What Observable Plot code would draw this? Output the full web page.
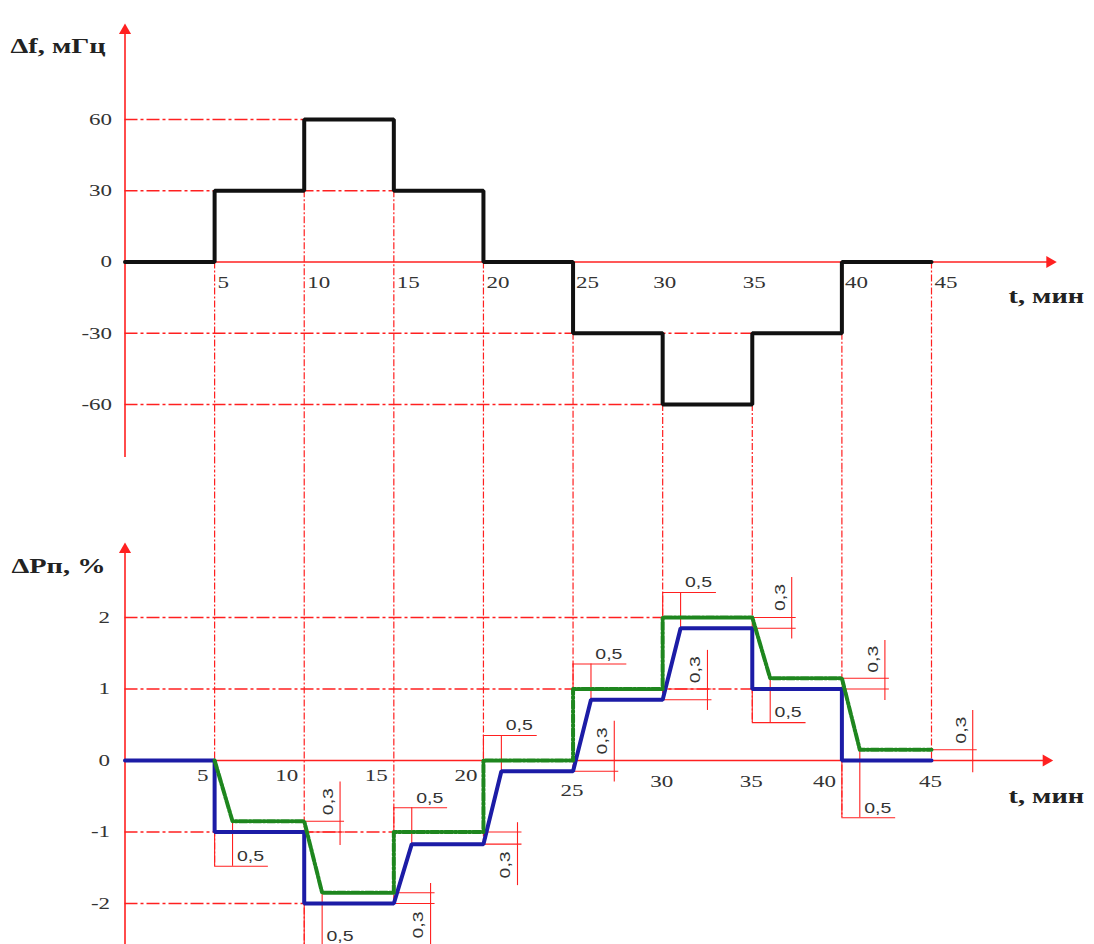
<!DOCTYPE html>
<html>
<head>
<meta charset="utf-8">
<script src="https://cdn.jsdelivr.net/npm/d3@7"></script>
<script src="https://cdn.jsdelivr.net/npm/@observablehq/plot@0.6"></script>
<style>
  html, body { margin: 0; padding: 0; background: #fff; }
  #chart { width: 1094px; height: 944px; overflow: hidden; }
  #chart svg { display: block; }
</style>
</head>
<body>
<div id="chart"></div>
<script>
// ---------- DATA ----------
// Top panel: frequency deviation Δf, mHz (step values at switching times)
const fTimes  = [0, 5, 10, 15, 20, 25, 30, 35, 40, 45];
const fValues = [0, 30, 60, 30, 0, -30, -60, -30, 0, 0];
const fTicksY = [60, 30, 0, -30, -60];
const tTicks  = [5, 10, 15, 20, 25, 30, 35, 40, 45];
const fGridLevels = [60, 30, -30, -60];
const fGridEnds   = [10, 15, 40, 30];

// Bottom panel: ΔPп, %
const blueT = [0, 5, 5, 10, 10, 15, 16, 20, 21, 25, 26, 30, 31, 35, 35, 40, 40, 45];
const blueV = [0, 0, -1, -1, -2, -2, -1.17, -1.17, -0.15, -0.15, 0.85, 0.85, 1.85, 1.85, 1, 1, 0, 0];
const greenT = [5, 6, 10, 11, 15, 15, 20, 20, 25, 25, 30, 30, 35, 36, 40, 41, 45];
const greenV = [0, -0.85, -0.85, -1.85, -1.85, -1, -1, 0, 0, 1, 1, 2, 2, 1.15, 1.15, 0.15, 0.15];
const pTicksY = [2, 1, 0, -1, -2];
const pGridLevels = [2, 1, -1, -2];
const pGridEnds   = [30, 35, 15, 10];
const pGuideEnds  = [-1.48, -2.7, -2, -1.17, -0.15, 0.85, 0.53, -0.8, 0]; // lower end of guide at each tTick

// "0,5" horizontal dimensions
const hDimT0     = [5, 10, 15, 20, 25, 30, 35, 40];
const hDimLevel  = [-1.48, -2.6, -0.66, 0.35, 1.35, 2.35, 0.53, -0.8];
const hDimFrom0  = [-1, -2, -1, 0, 1, 2, 1, 0];
const hDimFrom1  = [-0.85, -1.85, -1.17, -0.15, 0.85, 1.85, 1.15, 0.15];
const hDimLabel  = "0,5";
// "0,3" vertical dimensions
const vDimT    = [12.0, 17.05, 21.9, 27.3, 32.5, 37.2, 42.4, 47.3];
const vDimTop  = [-0.3, -1.72, -0.87, 0.55, 1.54, 2.56, 1.68, 0.7];
const vDimBot  = [-1.19, -2.6, -1.75, -0.3, 0.7, 1.7, 0.84, -0.17];
const vDimFrom = [10, 15, 20, 25, 30, 35, 40, 45];
const vDimExtA = [-0.85, -1.85, -1, 0, 1, 2, 1.15, 0.15];
const vDimExtB = [-1, -2, -1.17, -0.15, 0.85, 1.85, 1, 0];
const vDimSide = ["above", "below", "below", "above", "above", "above", "above", "above"];
const vDimLabel = "0,3";

// ---------- STYLE ----------
const RED = "#ff2020";
const SERIF = "Liberation Serif, Times New Roman, serif";
const SANS = "Liberation Sans, Arial, sans-serif";
const TXT = "#333";
const RAMP = 1;      // ramp width as drawn
const DIM_LEN = 3;   // dimension line length
const dashDot = "13,3,3,3";
const dashed = "7,2,2,2";
const tickFont = {fontFamily: SERIF, fontSize: 17, fill: TXT};
const titleFont = {fontFamily: SERIF, fontWeight: "bold", fontSize: 21, fill: "#222"};

// ---------- TOP PANEL ----------
const fData = fTimes.map((t, i) => ({t, v: fValues[i]}));
const fGuides = tTicks.map(t => {
  const i = fTimes.indexOf(t);
  return {t, v: Math.min(fValues[i - 1], fValues[i])};
});
const topCentered = t => t === 30 || t === 35;

const topPlot = Plot.plot({
  width: 1094, height: 470,
  marginLeft: 0, marginRight: 0, marginTop: 0, marginBottom: 0,
  style: {overflow: "hidden", background: "#fff"},
  x: {domain: [0, 45], range: [124.5, 931], axis: null},
  y: {domain: [-60, 60], range: [404, 119], axis: null},
  marks: [
    Plot.ruleY(fGridLevels, {y: d => d, x1: 0, x2: (d, i) => fGridEnds[i], stroke: RED, strokeWidth: 1.3, strokeDasharray: dashDot}),
    Plot.ruleX(fGuides, {x: "t", y1: "v", y2: -140, stroke: RED, strokeWidth: 1.2, strokeDasharray: dashed}),
    Plot.ruleY([0], {x1: 0, x2: 51.8, stroke: RED, strokeWidth: 1.6}),
    Plot.ruleX([0], {y1: -82.3, y2: 97, stroke: RED, strokeWidth: 1.6}),
    Plot.dot([0], {x: 51.6, y: 0, symbol: "triangle", rotate: 90, r: 4.5, fill: RED, stroke: null}),
    Plot.dot([0], {x: 0, y: 97.5, symbol: "triangle", rotate: 0, r: 4.5, fill: RED, stroke: null}),
    Plot.line(fData, {x: "t", y: "v", curve: "step-after", stroke: "#111", strokeWidth: 4, strokeLinejoin: "miter"}),
    Plot.text(fTicksY, {x: 0, y: d => d, text: d => String(d), textAnchor: "end", dx: -13, ...tickFont}),
    Plot.text(tTicks, {filter: d => !topCentered(d), x: d => d, y: 0, text: d => String(d), textAnchor: "start", dx: 3, dy: 21, ...tickFont}),
    Plot.text(tTicks, {filter: topCentered, x: d => d, y: 0, text: d => String(d), textAnchor: "middle", dx: 2, dy: 21, ...tickFont}),
    Plot.text(["Δf, мГц"], {frameAnchor: "top-left", textAnchor: "start", dx: 10, dy: 38, ...titleFont}),
    Plot.text(["t, мин"], {frameAnchor: "top-left", textAnchor: "start", dx: 1008, dy: 288, ...titleFont})
  ]
});

// ---------- BOTTOM PANEL ----------
const blue = blueT.map((t, i) => ({t, v: blueV[i]}));
const green = greenT.map((t, i) => ({t, v: greenV[i]}));
const pGuides = tTicks.map((t, i) => ({t, v: pGuideEnds[i]}));
const hDims = hDimT0.map((t0, i) => ({t0, level: hDimLevel[i], from0: hDimFrom0[i], from1: hDimFrom1[i]}));
const vDims = vDimT.map((t, i) => ({t, top: vDimTop[i], bot: vDimBot[i], from: vDimFrom[i], extA: vDimExtA[i], extB: vDimExtB[i], side: vDimSide[i]}));
const vLabelY = d => d.side === "above"
  ? (d.top + Math.max(d.extA, d.extB)) / 2
  : (d.bot + Math.min(d.extA, d.extB)) / 2;

const pAnchorEnd = t => [5, 10, 15, 20, 40].includes(t);

const botPlot = Plot.plot({
  width: 1094, height: 474,
  marginLeft: 0, marginRight: 0, marginTop: 0, marginBottom: 0,
  style: {overflow: "hidden", background: "#fff"},
  x: {domain: [0, 45], range: [124.5, 931], axis: null},
  y: {domain: [-2, 2], range: [433, 147], axis: null},
  marks: [
    Plot.ruleY(pGridLevels, {y: d => d, x1: 0, x2: (d, i) => pGridEnds[i], stroke: RED, strokeWidth: 1.3, strokeDasharray: dashDot}),
    Plot.ruleX(pGuides, {x: "t", y1: 4.3, y2: "v", stroke: RED, strokeWidth: 1.2, strokeDasharray: dashed}),
    // "0,5" dimensions
    Plot.ruleY(hDims, {y: "level", x1: "t0", x2: d => d.t0 + DIM_LEN, stroke: RED, strokeWidth: 1.1}),
    Plot.ruleX(hDims, {x: "t0", y1: "from0", y2: "level", stroke: RED, strokeWidth: 1.1}),
    Plot.ruleX(hDims, {x: d => d.t0 + RAMP, y1: "from1", y2: "level", stroke: RED, strokeWidth: 1.1}),
    Plot.text(hDims, {x: d => d.t0 + 2, y: "level", text: () => hDimLabel, dy: -10, fontFamily: SANS, fontSize: 15, fill: TXT}),
    // "0,3" dimensions
    Plot.ruleX(vDims, {x: "t", y1: "top", y2: "bot", stroke: RED, strokeWidth: 1.1}),
    Plot.ruleY(vDims, {y: "extA", x1: "from", x2: d => d.t + 0.25, stroke: RED, strokeWidth: 1.1}),
    Plot.ruleY(vDims, {y: "extB", x1: "from", x2: d => d.t + 0.25, stroke: RED, strokeWidth: 1.1}),
    Plot.text(vDims, {x: "t", y: vLabelY, text: () => vDimLabel, rotate: -90, dx: -12, fontFamily: SANS, fontSize: 15, fill: TXT}),
    // axes
    Plot.ruleY([0], {x1: 0, x2: 51.6, stroke: RED, strokeWidth: 1.6}),
    Plot.ruleX([0], {y1: -2.8, y2: 2.95, stroke: RED, strokeWidth: 1.6}),
    Plot.dot([0], {x: 51.4, y: 0, symbol: "triangle", rotate: 90, r: 4.5, fill: RED, stroke: null}),
    Plot.dot([0], {x: 0, y: 2.95, symbol: "triangle", rotate: 0, r: 4.5, fill: RED, stroke: null}),
    // series
    Plot.line(blue, {x: "t", y: "v", stroke: "#1c1ca6", strokeWidth: 4, strokeLinejoin: "miter"}),
    Plot.line(green, {x: "t", y: "v", stroke: "#1e861e", strokeWidth: 4, strokeDasharray: "8,2,2,2"}),
    // tick labels
    Plot.text(pTicksY, {x: 0, y: d => d, text: d => String(d), textAnchor: "end", dx: -15, ...tickFont}),
    Plot.text(tTicks, {filter: d => pAnchorEnd(d) && d <= 20, x: d => d, y: 0, text: d => String(d), textAnchor: "end", dx: -6, dy: 15, ...tickFont}),
    Plot.text(tTicks, {filter: d => pAnchorEnd(d) && d > 20, x: d => d, y: 0, text: d => String(d), textAnchor: "end", dx: -6, dy: 21, ...tickFont}),
    Plot.text(tTicks, {filter: d => !pAnchorEnd(d) && d !== 25, x: d => d, y: 0, text: d => String(d), textAnchor: "middle", dx: -1, dy: 21, ...tickFont}),
    Plot.text(tTicks, {filter: d => d === 25, x: d => d, y: 0, text: d => String(d), textAnchor: "middle", dx: -1, dy: 30, ...tickFont}),
    Plot.text(["ΔPп, %"], {frameAnchor: "top-left", textAnchor: "start", dx: 11, dy: 88, ...titleFont}),
    Plot.text(["t, мин"], {frameAnchor: "top-left", textAnchor: "start", dx: 1008, dy: 318, ...titleFont})
  ]
});

const host = document.getElementById("chart");
host.appendChild(topPlot);
host.appendChild(botPlot);

// Horizontal stretch of glyphs to match the reference's wide lettering
host.querySelectorAll("g[font-family] text").forEach(t => {
  const fam = t.parentNode.getAttribute("font-family") || "";
  const factor = fam.includes("Serif") ? 1.35 : 1.3;
  const len = t.getComputedTextLength();
  if (len > 0) {
    t.setAttribute("textLength", (len * factor).toFixed(1));
    t.setAttribute("lengthAdjust", "spacingAndGlyphs");
  }
});
</script>
</body>
</html>
